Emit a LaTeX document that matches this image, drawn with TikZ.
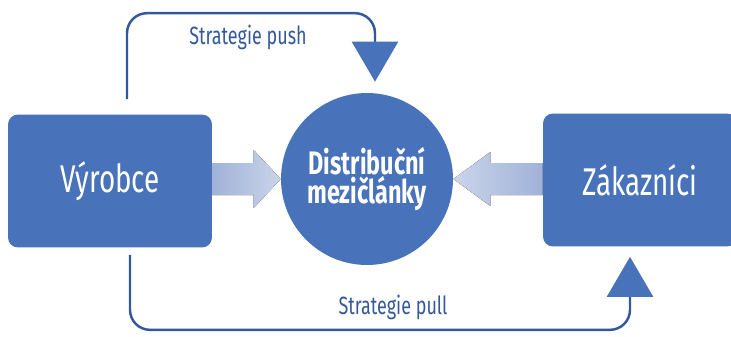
\documentclass[tikz,border=0pt]{standalone}
\usepackage{fontspec}
\setmainfont{Fira Sans}[FakeStretch=0.72]
\usetikzlibrary{arrows.meta,calc}
\definecolor{boxblue}{RGB}{72,114,186}
\definecolor{lineblue}{RGB}{52,88,156}
\definecolor{fatblue}{RGB}{160,178,216}

\begin{document}
\begin{tikzpicture}[x=0.02cm, y=-0.02cm,
    party/.style={fill=boxblue, rounded corners=0.2cm, text=white, minimum height=2.66cm, font=\fontsize{22}{26}\selectfont},
    hub/.style={circle, fill=boxblue, text=white, minimum size=3.44cm, align=center, font=\bfseries\fontsize{18.5}{17}\selectfont},
    strategy/.style={draw=lineblue, line width=1.4pt, rounded corners=0.4cm,
        -{Triangle[length=0.8cm, width=0.92cm, fill=boxblue, color=boxblue]}},
    strategylabel/.style={text=lineblue, font=\fontsize{14.2}{16}\selectfont},
    fat/.style={left color=fatblue, right color=fatblue!55!white}]
    \useasboundingbox (0,0) rectangle (731,336);

    % Nodes
    \node [party, minimum width=4.08cm] (vyr) at (110,181) {Výrobce};
    \node [hub]                         (hub) at (367,179) {Distribuční\\mezičlánky};
    \node [party, minimum width=3.88cm] (zak) at (640,180) {Zákazníci};

    % Fat arrows
    \fill [fat] ($(vyr.east |- hub.west)+(0,-16)$) -- ($(hub.west)+(-27,-16)$) -- ($(hub.west)+(-27,-29)$)
        -- (hub.west) -- ($(hub.west)+(-27,29)$) -- ($(hub.west)+(-27,16)$) -- ($(vyr.east |- hub.west)+(0,16)$) -- cycle;
    \fill [fat, left color=fatblue!55!white, right color=fatblue] ($(zak.west |- hub.east)+(0,-16)$) -- ($(hub.east)+(37,-16)$) -- ($(hub.east)+(37,-27)$)
        -- (hub.east) -- ($(hub.east)+(37,27)$) -- ($(hub.east)+(37,16)$) -- ($(zak.west |- hub.east)+(0,16)$) -- cycle;

    % Strategies
    \coordinate (pushstart) at ($(vyr.north)+(17,-15)$);
    \coordinate (pushend)   at ($(hub.north)+(8,-11)$);
    \coordinate (pullstart) at ($(vyr.south)+(20,7)$);
    \coordinate (pullend)   at ($(zak.south)+(-10,10)$);
    \draw [strategy] (pushstart) -- ++(0,-86) -| (pushend);
    \draw [strategy] (pullstart) -- ++(0,75) -| (pullend);
    \node [strategylabel] (pushlabel) at (248,37)  {Strategie push};
    \node [strategylabel] (pulllabel) at (393,307) {Strategie pull};
\end{tikzpicture}
\end{document}
